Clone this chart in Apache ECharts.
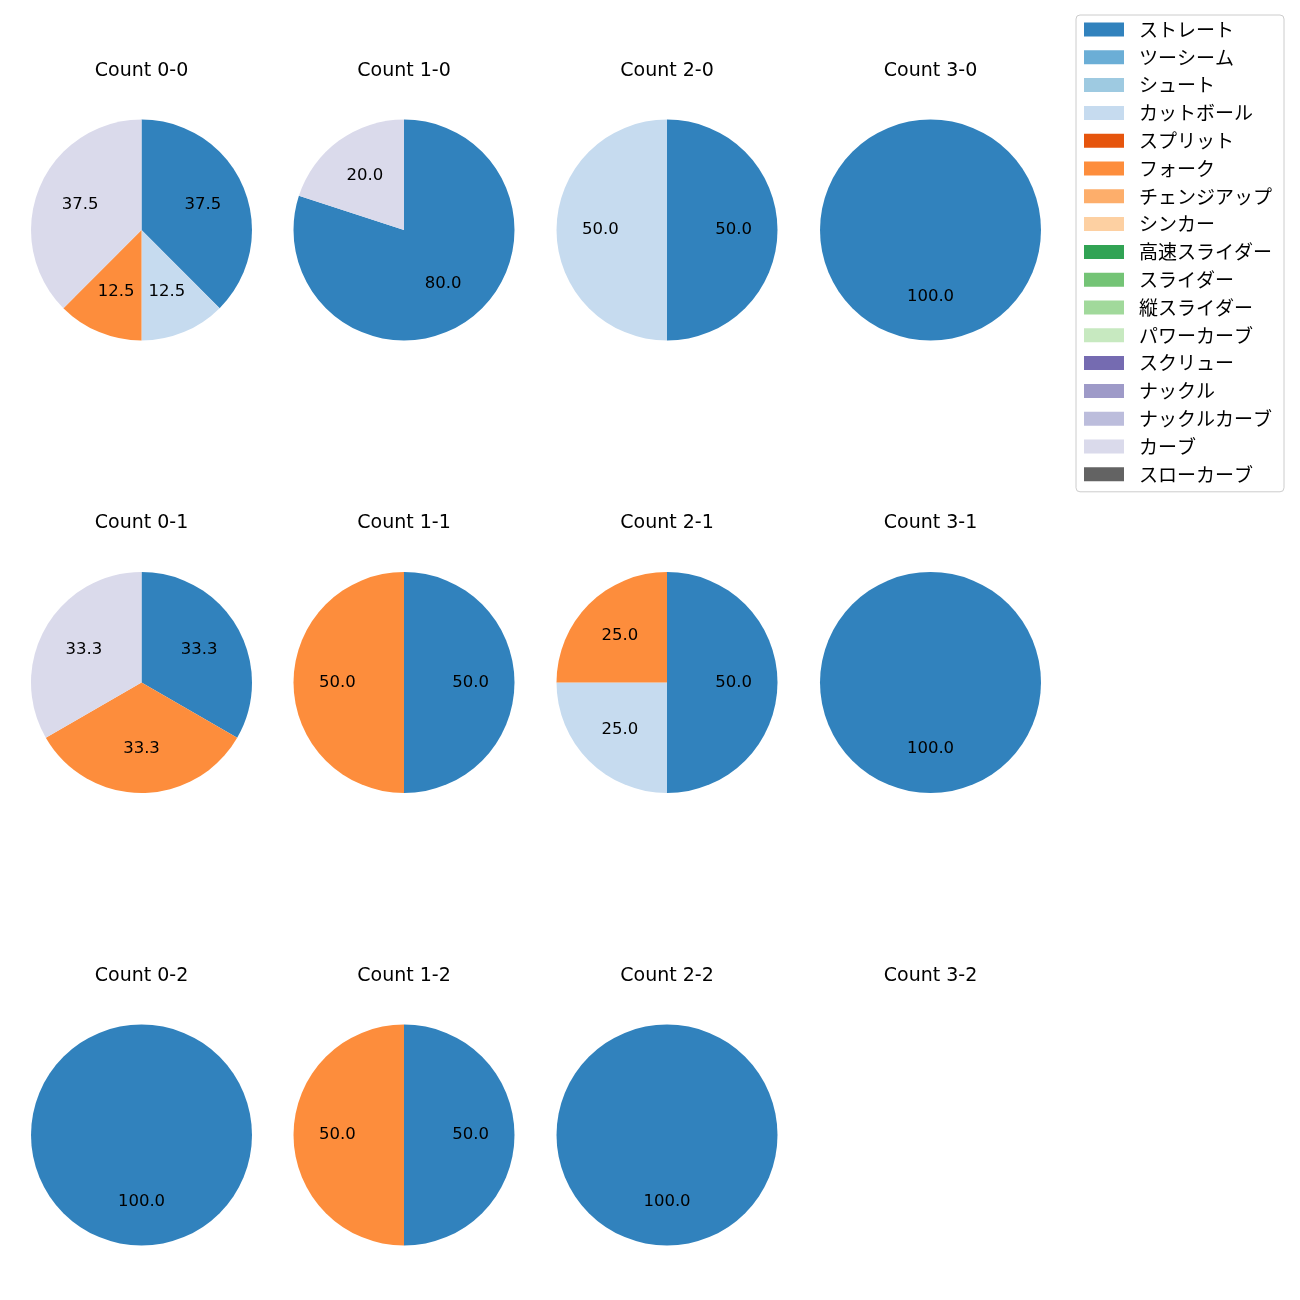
<!DOCTYPE html>
<html><head><meta charset="utf-8">
<script src="https://cdn.jsdelivr.net/npm/echarts@6/dist/echarts.min.js"></script>
<style>html,body{margin:0;padding:0;background:#fff}#c{width:1300px;height:1300px}</style>
</head><body><div id="c"></div>
<script>
const categories = ['ストレート','ツーシーム','シュート','カットボール','スプリット','フォーク','チェンジアップ','シンカー','高速スライダー','スライダー','縦スライダー','パワーカーブ','スクリュー','ナックル','ナックルカーブ','カーブ','スローカーブ'];
const colors = ['#3182bd','#6baed6','#9ecae1','#c6dbef','#e6550d','#fd8d3c','#fdae6b','#fdd0a2','#31a354','#74c476','#a1d99b','#c7e9c0','#756bb1','#9e9ac8','#bcbddc','#dadaeb','#636363'];

const panelTitles = ['Count 0-0','Count 1-0','Count 2-0','Count 3-0','Count 0-1','Count 1-1','Count 2-1','Count 3-1','Count 0-2','Count 1-2','Count 2-2','Count 3-2'];
const panelNames = [
  ['ストレート','カットボール','フォーク','カーブ'],
  ['ストレート','カーブ'],
  ['ストレート','カットボール'],
  ['ストレート'],
  ['ストレート','フォーク','カーブ'],
  ['ストレート','フォーク'],
  ['ストレート','カットボール','フォーク'],
  ['ストレート'],
  ['ストレート'],
  ['ストレート','フォーク'],
  ['ストレート'],
  []
];
const panelValues = [
  [37.5, 12.5, 12.5, 37.5],
  [80.0, 20.0],
  [50.0, 50.0],
  [100.0],
  [33.3, 33.3, 33.3],
  [50.0, 50.0],
  [50.0, 25.0, 25.0],
  [100.0],
  [100.0],
  [50.0, 50.0],
  [100.0],
  []
];

const colX = [141.5, 404, 667, 930.5];
const rowY = [230, 682.5, 1135];
const R = 110.5;
const FONT = '"DejaVu Sans", "Noto Sans CJK JP", sans-serif';
const JFONT = '"Noto Sans CJK JP", "Noto Sans", sans-serif';
const colorOf = n => colors[categories.indexOf(n)];

const series = [];
const titles = [];
series.push({
  type:'pie', center:[-500,-500], radius:[0,1], silent:true, label:{show:false}, labelLine:{show:false},
  data: categories.map(n => ({name:n, value:1, itemStyle:{color:colorOf(n)}}))
});
panelTitles.forEach((t, i) => {
  const cx = colX[i % 4], cy = rowY[Math.floor(i / 4)];
  titles.push({text:t, left:cx, top:cy - R - 58, textAlign:'center', padding:0,
    textStyle:{fontFamily:FONT, fontSize:19, fontWeight:'normal', color:'#000'}});
  const d = panelNames[i].map((n, k) => ({name:n, value:panelValues[i][k], itemStyle:{color:colorOf(n)}}));
  if (!d.length) return;
  series.push({
    type:'pie', center:[cx, cy], radius:[0, R], startAngle:90, clockwise:true, silent:true,
    label:{show:false}, labelLine:{show:false}, itemStyle:{borderWidth:0}, emphasis:{disabled:true},
    data:d
  });
  series.push({
    type:'pie', center:[cx, cy], radius:[0, R * 1.15], startAngle:90, clockwise:true, silent:true,
    labelLine:{show:false}, emphasis:{disabled:true}, legendHoverLink:false,
    itemStyle:{color:'rgba(0,0,0,0)', borderWidth:0},
    label:{show:true, position:'inside', color:'#000', fontFamily:FONT, fontSize:16.5,
      formatter: p => p.value.toFixed(1)},
    data: panelNames[i].map((n, k) => ({name:n, value:panelValues[i][k], itemStyle:{color:'rgba(0,0,0,0)'}}))
  });
});

const chart = echarts.init(document.getElementById('c'), null, {renderer:'canvas'});
chart.setOption({
  animation:false,
  title:titles,
  legend:{
    data:categories, orient:'vertical', left:1076, top:15,
    padding:[5, 12, 8, 8], itemGap:8.8, itemWidth:40, itemHeight:14, icon:'rect',
    borderColor:'#cccccc', borderWidth:1, borderRadius:4, backgroundColor:'#fff',
    textStyle:{fontFamily:JFONT, fontSize:19, color:'#000', padding:[0,0,0,10], lineHeight:17},
    selectedMode:false
  },
  series:series
});
</script></body></html>
